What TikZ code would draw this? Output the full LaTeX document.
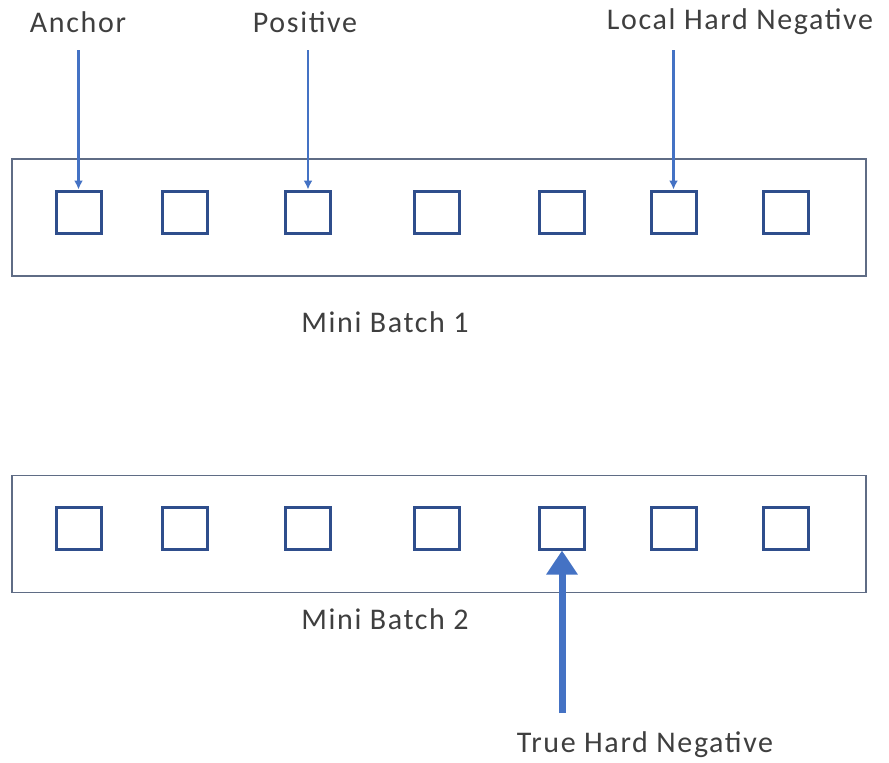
\documentclass[tikz,border=0pt]{standalone}
\usepackage{fontspec}
\setmainfont{Carlito}[LetterSpace=5.5]
\usetikzlibrary{arrows.meta}
\definecolor{itemblue}{HTML}{2F4E8C}
\definecolor{framegray}{HTML}{5F6C85}
\definecolor{pointer}{HTML}{4472C4}
\definecolor{labeltext}{HTML}{3F3F3F}
\begin{document}
\begin{tikzpicture}[x=1pt,y=-1pt,
  item/.style={draw=itemblue,line width=3pt,minimum width=45pt,minimum height=42pt,inner sep=0pt},
  batchframe/.style={draw=framegray,line width=1.6pt,minimum width=854pt,minimum height=117pt,inner sep=0pt},
  caption/.style={text=labeltext,font=\fontsize{30}{36}\selectfont,inner sep=0pt},
  thinptr/.style={draw=pointer,line width=2.4pt,-{Latex[length=9pt,width=9pt]}},
  thickptr/.style={draw=pointer,line width=7pt,-{Triangle[length=24pt,width=30pt]}}]
\useasboundingbox (0,0) rectangle (889,763);
\fill[white] (0,0) rectangle (889,763);

% mini batch frames
\node[batchframe] (batch1) at (439,217.5) {};
\node[batchframe] (batch2) at (439,534) {};

% items in each batch
\foreach \i/\x in {1/78.5,2/184.5,3/308,4/437,5/562,6/673.5,7/786}{
  \node[item] (b1s\i) at (\x,212) {};
  \node[item] (b2s\i) at (\x,528) {};
}

% captions
\node[caption] (anchor) at (78,22) {Anchor};
\node[caption] (positive) at (305,22) {Positive};
\node[caption] (localneg) at (740,22) {Local Hard Negative};
\node[caption] (mb1) at (385,322) {Mini Batch 1};
\node[caption] (mb2) at (385,619) {Mini Batch 2};
\node[caption] (trueneg) at (645,745) {True Hard Negative};

% pointers
\coordinate (pa) at (b1s1.north |- 0,50);
\coordinate (pp) at (b1s3.north |- 0,50);
\coordinate (pl) at (b1s6.north |- 0,50);
\coordinate (pt) at (b2s5.south |- 0,713);
\draw[thinptr] (pa) -- (b1s1.north);
\draw[thinptr] (pp) -- (b1s3.north);
\draw[thinptr] (pl) -- (b1s6.north);
\draw[thickptr] (pt) -- (b2s5.south);
\end{tikzpicture}
\end{document}
